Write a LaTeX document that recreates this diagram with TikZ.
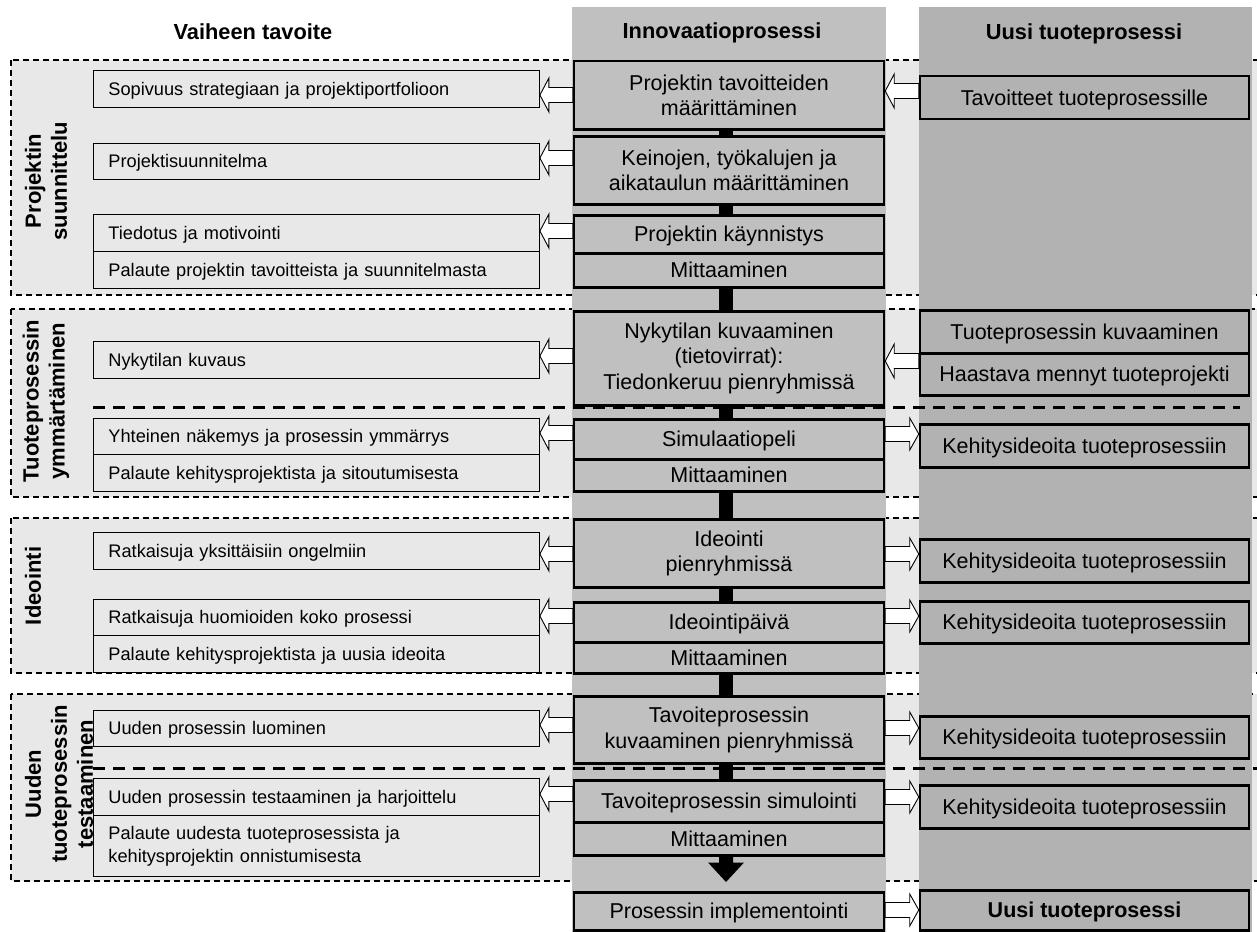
\documentclass[tikz,border=0pt]{standalone}
\usepackage{fontspec}
\setmainfont{Liberation Sans}
\usetikzlibrary{calc}
\definecolor{phasefill}{HTML}{E8E8E8}
\definecolor{innofill}{HTML}{C0C0C0}
\definecolor{prodfill}{HTML}{B2B2B2}

\tikzset{
  phase/.style={draw, dash pattern=on 6pt off 4pt, line width=1.4pt, fill=phasefill},
  divider/.style={line width=3pt, dash pattern=on 12pt off 8pt},
  goalbox/.style={draw, line width=0.9pt, fill=phasefill, anchor=north west,
    text width=416pt, inner xsep=15pt, inner ysep=0pt, align=left,
    text height=13pt, text depth=0pt,
    font=\fontsize{18.2}{23}\selectfont},
  stepbox/.style={draw, line width=2.5pt, fill=innofill, anchor=north,
    minimum width=310pt, inner sep=0pt, align=center,
    text height=15.4pt, text depth=0pt,
    font=\fontsize{21.5}{25.5}\selectfont},
  prodbox/.style={draw, line width=2.5pt, fill=prodfill, anchor=north,
    minimum width=329pt, inner sep=0pt, align=center,
    text height=15.4pt, text depth=0pt,
    font=\fontsize{21.5}{25.5}\selectfont},
  multirow/.style={text height={}, text depth={}},
  colhead/.style={font=\bfseries\fontsize{21.8}{26}\selectfont, text height=15.6pt, text depth=0pt},
  phaselabel/.style={rotate=90, align=center, font=\bfseries\fontsize{22}{26}\selectfont},
  flowbar/.style={line width=14pt},
  blockarrow/.style={draw, fill=white, line width=0.9pt, line join=miter},
}

% hollow block arrow pointing left: from the west side of #1 to the east side of #2, at height #3
\newcommand\blkL[3]{%
  \draw[blockarrow] (#2.east |- 0,#3) -- ++(9,-17) -- ++(0,9.5)
    -- ($(#1.west |- 0,#3)+(0,-7.5)$) -- ++(0,15)
    -- ($(#2.east |- 0,#3)+(9,7.5)$) -- ++(0,9.5) -- cycle;}
% hollow block arrow pointing right: from the east side of #1 to the west side of #2, at height #3
\newcommand\blkR[3]{%
  \draw[blockarrow] (#2.west |- 0,#3) -- ++(-9,-16) -- ++(0,8.5)
    -- ($(#1.east |- 0,#3)+(0,-7.5)$) -- ++(0,15)
    -- ($(#2.west |- 0,#3)+(-9,7.5)$) -- ++(0,8.5) -- cycle;}

\begin{document}
\begin{tikzpicture}[x=1pt,y=-1pt]
\useasboundingbox (0,0) rectangle (1257,931);
\clip (0,0) rectangle (1257,931);

% phase bands
\path[phase] (11,60) rectangle (1275,295);
\path[phase] (11,309) rectangle (1275,497);
\path[phase] (11,518) rectangle (1275,673);
\path[phase] (11,694) rectangle (1275,881);

% process columns
\fill[innofill] (572,7) rectangle (886,935);
\fill[prodfill] (919,7) rectangle (1252,935);

% sub-phase dividers
\draw[divider] (93,407) -- (1240,407);
\draw[divider] (93,768) -- (1265,768);

% column headings
\node[colhead] (h1) at (253,31.7) {Vaiheen tavoite};
\node[colhead] (h2) at (722,30.7) {Innovaatioprosessi};
\node[colhead] (h3) at (1084,31.5) {Uusi tuoteprosessi};

% phase labels
\node[phaselabel] (v1) at (46,181) {Projektin\\suunnittelu};
\node[phaselabel] (v2) at (46,401) {Tuoteprosessin\\ymmärtäminen};
\node[phaselabel] (v3) at (33,586) {Ideointi};
\node[phaselabel] (v4) at (59,784) {Uuden\\tuoteprosessin\\testaaminen};

% phase goals
\node[goalbox, minimum height=37pt] (g1) at (93,70) {Sopivuus strategiaan ja projektiportfolioon};
\node[goalbox, minimum height=36pt] (g2) at (93,143) {Projektisuunnitelma};
\node[goalbox, minimum height=37pt] (g3) at (93,214) {Tiedotus ja motivointi};
\node[goalbox, minimum height=37pt] (g4) at (93,251) {Palaute projektin tavoitteista ja suunnitelmasta};
\node[goalbox, minimum height=37pt] (g5) at (93,341) {Nykytilan kuvaus};
\node[goalbox, minimum height=36pt] (g6) at (93,418) {Yhteinen näkemys ja prosessin ymmärrys};
\node[goalbox, minimum height=37pt] (g7) at (93,454) {Palaute kehitysprojektista ja sitoutumisesta};
\node[goalbox, minimum height=37pt] (g8) at (93,532) {Ratkaisuja yksittäisiin ongelmiin};
\node[goalbox, minimum height=36pt] (g9) at (93,599) {Ratkaisuja huomioiden koko prosessi};
\node[goalbox, minimum height=37pt] (g10) at (93,635) {Palaute kehitysprojektista ja uusia ideoita};
\node[goalbox, minimum height=36pt] (g11) at (93,710) {Uuden prosessin luominen};
\node[goalbox, minimum height=37pt] (g12) at (93,778) {Uuden prosessin testaaminen ja harjoittelu};
\node[goalbox, multirow, minimum height=61pt] (g13) at (93,815) {Palaute uudesta tuoteprosessista ja\\kehitysprojektin onnistumisesta};

% innovation process steps
\node[stepbox, multirow, minimum height=68pt] (s1) at (729,60) {Projektin tavoitteiden\\määrittäminen};
\node[stepbox, multirow, minimum height=68pt] (s2) at (729,135) {Keinojen, työkalujen ja\\aikataulun määrittäminen};
\node[stepbox, minimum height=38pt] (s3) at (729,214) {Projektin käynnistys};
\node[stepbox, minimum height=34pt] (s3m) at (729,252) {Mittaaminen};
\node[stepbox, multirow, minimum height=94pt] (s4) at (729,310) {Nykytilan kuvaaminen\\(tietovirrat):\\Tiedonkeruu pienryhmissä};
\node[stepbox, minimum height=40pt] (s5) at (729,418) {Simulaatiopeli};
\node[stepbox, minimum height=32pt] (s5m) at (729,458) {Mittaaminen};
\node[stepbox, multirow, minimum height=68pt] (s6) at (729,518) {Ideointi\\pienryhmissä};
\node[stepbox, minimum height=40pt] (s7) at (729,601) {Ideointipäivä};
\node[stepbox, minimum height=31pt] (s7m) at (729,641) {Mittaaminen};
\node[stepbox, multirow, minimum height=67pt] (s8) at (729,695) {Tavoiteprosessin\\kuvaaminen pienryhmissä};
\node[stepbox, minimum height=42pt] (s9) at (729,779) {Tavoiteprosessin simulointi};
\node[stepbox, minimum height=33pt] (s9m) at (729,821) {Mittaaminen};
\node[stepbox, minimum height=38pt] (s10) at (729,891) {Prosessin implementointi};

% connecting bars and the final arrow of the innovation process
\foreach \a/\b in {s1/s2, s2/s3, s3m/s4, s4/s5, s5m/s6, s6/s7, s7m/s8, s8/s9}
  \draw[flowbar] ($(\a.south)+(-3,0)$) -- ($(\b.north)+(-3,0)$);
\fill ($(s9m.south)+(-10,0)$) -- ++(14,0) -- ++(0,6) -- ++(11,0)
  -- ($(s10.north)+(-3,-9)$) -- ($(s9m.south)+(-21,6)$) -- ++(11,0) -- cycle;

% new product process
\node[prodbox, minimum height=43pt] (p1) at (1084.5,75) {Tavoitteet tuoteprosessille};
\node[prodbox, minimum height=43pt] (p2) at (1084.5,309) {Tuoteprosessin kuvaaminen};
\node[prodbox, minimum height=42pt] (p2b) at (1084.5,352) {Haastava mennyt tuoteprojekti};
\node[prodbox, minimum height=43pt] (p3) at (1084.5,423) {Kehitysideoita tuoteprosessiin};
\node[prodbox, minimum height=43pt] (p4) at (1084.5,538) {Kehitysideoita tuoteprosessiin};
\node[prodbox, minimum height=42pt] (p5) at (1084.5,600) {Kehitysideoita tuoteprosessiin};
\node[prodbox, minimum height=42pt] (p6) at (1084.5,715) {Kehitysideoita tuoteprosessiin};
\node[prodbox, minimum height=43pt] (p7) at (1084.5,784) {Kehitysideoita tuoteprosessiin};
\node[prodbox, minimum height=40pt, font=\bfseries\fontsize{21.5}{25.5}\selectfont] (p8) at (1084.5,889) {Uusi tuoteprosessi};

% block arrows
\blkL{s1}{g1}{95}
\blkL{s2}{g2}{158}
\blkL{s3}{g3}{231}
\blkL{s4}{g5}{356}
\blkL{s5}{g6}{433}
\blkL{s6}{g8}{554}
\blkL{s7}{g9}{616}
\blkL{s8}{g11}{725}
\blkL{s9}{g12}{794}
\blkL{p1}{s1}{91}
\blkL{p2b}{s4}{361}
\blkR{s5}{p3}{434}
\blkR{s6}{p4}{554}
\blkR{s7}{p5}{616}
\blkR{s8}{p6}{728}
\blkR{s9}{p7}{797}
\blkR{s10}{p8}{910}
\end{tikzpicture}
\end{document}
